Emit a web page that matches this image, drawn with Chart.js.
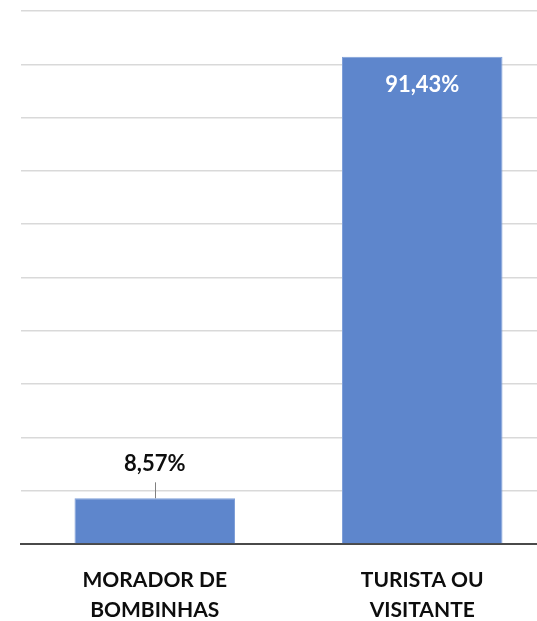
<!DOCTYPE html>
<html>
<head>
<meta charset="utf-8">
<script src="https://cdn.jsdelivr.net/npm/chart.js@4/dist/chart.umd.min.js"></script>
<style>
  html, body { margin: 0; padding: 0; background: #ffffff; overflow: hidden; }
  #wrap { width: 537px; height: 621px; overflow: hidden; }
  canvas { display: block; }
</style>
</head>
<body>
<div id="wrap"><canvas id="chart" width="556" height="621"></canvas></div>
<script>
// Respondent profile: share of answers per group (%)
const categories = [["MORADOR DE", "BOMBINHAS"], ["TURISTA OU", "VISITANTE"]];
const shares = [8.57, 91.43];
const yTicks = [0, 10, 20, 30, 40, 50, 60, 70, 80, 90, 100];

const FONT = "Lato, 'Open Sans', 'Liberation Sans', sans-serif";

function pct(v) {
  return v.toFixed(2).replace('.', ',') + '%';
}

// Value labels: white inside tall bars, dark above short bars with a leader tick
const valueLabels = {
  id: 'valueLabels',
  afterDatasetsDraw(chart) {
    const ctx = chart.ctx;
    const meta = chart.getDatasetMeta(0);
    const yScale = chart.scales.y;
    ctx.save();
    ctx.font = "bold 22px " + FONT;
    ctx.textAlign = 'center';
    ctx.textBaseline = 'middle';
    meta.data.forEach((bar, i) => {
      const v = shares[i];
      const h = yScale.getPixelForValue(0) - bar.y;
      if (h > 80) {
        ctx.fillStyle = '#ffffff';
        ctx.fillText(pct(v), bar.x, bar.y + 28);
      } else {
        ctx.strokeStyle = '#808080';
        ctx.lineWidth = 1;
        ctx.beginPath();
        ctx.moveTo(Math.round(bar.x) + 0.5, bar.y);
        ctx.lineTo(Math.round(bar.x) + 0.5, bar.y - 16);
        ctx.stroke();
        ctx.fillStyle = '#0d0d0d';
        ctx.fillText(pct(v), bar.x, bar.y - 34);
      }
    });
    ctx.restore();
  }
};

new Chart(document.getElementById('chart'), {
  type: 'bar',
  data: {
    labels: categories,
    datasets: [{
      data: shares,
      backgroundColor: '#5e86cc',
      borderColor: '#7f9fd8',
      borderWidth: 1,
      categoryPercentage: 1.0,
      barPercentage: 0.6
    }]
  },
  options: {
    responsive: false,
    animation: false,
    devicePixelRatio: 1,
    layout: { padding: { left: 21, top: 11, right: 0, bottom: 0 } },
    plugins: {
      legend: { display: false },
      tooltip: { enabled: false }
    },
    scales: {
      x: {
        grid: { display: false, drawTicks: false },
        border: { display: true, color: '#4a4a4a', width: 2 },
        ticks: {
          color: '#0d0d0d',
          padding: 21,
          font: { family: FONT, size: 21, weight: 'bold', lineHeight: 1.43 }
        },
        afterFit(scale) { scale.height = 77; }
      },
      y: {
        min: 0,
        max: 100,
        afterBuildTicks(scale) { scale.ticks = yTicks.map(v => ({ value: v })); },
        grid: { color: '#d9d9d9', lineWidth: 1.5, drawTicks: false },
        border: { display: false },
        ticks: { display: false },
        afterFit(scale) { scale.width = 0; }
      }
    }
  },
  plugins: [valueLabels]
});
</script>
</body>
</html>
